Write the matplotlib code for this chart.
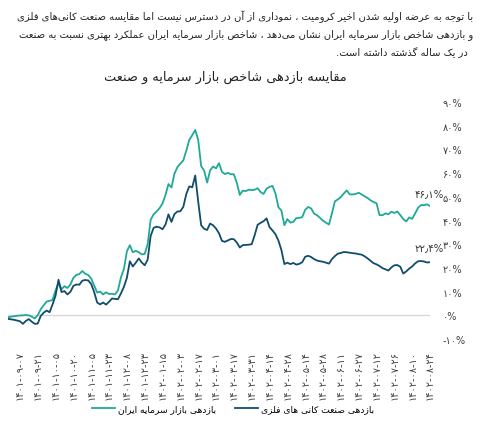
import numpy as np
import matplotlib.pyplot as plt

# متن فارسی - matplotlib اتصال حروف ندارد، پس شکل حروف را دستی می‌سازیم
FORMS = {
    '\u0622': ('\uFE81', '\uFE82'), '\u0627': ('\uFE8D', '\uFE8E'),
    '\u0628': ('\uFE8F', '\uFE90', '\uFE91', '\uFE92'),
    '\u067E': ('\uFB56', '\uFB57', '\uFB58', '\uFB59'),
    '\u062A': ('\uFE95', '\uFE96', '\uFE97', '\uFE98'),
    '\u062B': ('\uFE99', '\uFE9A', '\uFE9B', '\uFE9C'),
    '\u062C': ('\uFE9D', '\uFE9E', '\uFE9F', '\uFEA0'),
    '\u0686': ('\uFB7A', '\uFB7B', '\uFB7C', '\uFB7D'),
    '\u062D': ('\uFEA1', '\uFEA2', '\uFEA3', '\uFEA4'),
    '\u062E': ('\uFEA5', '\uFEA6', '\uFEA7', '\uFEA8'),
    '\u062F': ('\uFEA9', '\uFEAA'), '\u0630': ('\uFEAB', '\uFEAC'),
    '\u0631': ('\uFEAD', '\uFEAE'), '\u0632': ('\uFEAF', '\uFEB0'),
    '\u0698': ('\uFB8A', '\uFB8B'),
    '\u0633': ('\uFEB1', '\uFEB2', '\uFEB3', '\uFEB4'),
    '\u0634': ('\uFEB5', '\uFEB6', '\uFEB7', '\uFEB8'),
    '\u0635': ('\uFEB9', '\uFEBA', '\uFEBB', '\uFEBC'),
    '\u0636': ('\uFEBD', '\uFEBE', '\uFEBF', '\uFEC0'),
    '\u0637': ('\uFEC1', '\uFEC2', '\uFEC3', '\uFEC4'),
    '\u0638': ('\uFEC5', '\uFEC6', '\uFEC7', '\uFEC8'),
    '\u0639': ('\uFEC9', '\uFECA', '\uFECB', '\uFECC'),
    '\u063A': ('\uFECD', '\uFECE', '\uFECF', '\uFED0'),
    '\u0641': ('\uFED1', '\uFED2', '\uFED3', '\uFED4'),
    '\u0642': ('\uFED5', '\uFED6', '\uFED7', '\uFED8'),
    '\u06A9': ('\uFB8E', '\uFB8F', '\uFB90', '\uFB91'),
    '\u06AF': ('\uFB92', '\uFB93', '\uFB94', '\uFB95'),
    '\u0644': ('\uFEDD', '\uFEDE', '\uFEDF', '\uFEE0'),
    '\u0645': ('\uFEE1', '\uFEE2', '\uFEE3', '\uFEE4'),
    '\u0646': ('\uFEE5', '\uFEE6', '\uFEE7', '\uFEE8'),
    '\u0648': ('\uFEED', '\uFEEE'),
    '\u0647': ('\uFEE9', '\uFEEA', '\uFEEB', '\uFEEC'),
    '\u06CC': ('\uFBFC', '\uFBFD', '\uFBFE', '\uFBFF'),
}


def fa(text):
    out = []
    for i, ch in enumerate(text):
        if ch not in FORMS:
            out.append(ch)
            continue
        f = FORMS[ch]
        prev = text[i - 1] if i > 0 else ''
        nxt = text[i + 1] if i < len(text) - 1 else ''
        jp = prev in FORMS and len(FORMS[prev]) == 4
        jn = nxt in FORMS and len(f) == 4
        if jp and jn:
            out.append(f[3])
        elif jp:
            out.append(f[1])
        elif jn:
            out.append(f[2])
        else:
            out.append(f[0])
    return ''.join(out).replace('\u200c', '')[::-1]


def fit_width(fig, t, width_px):
    # shrink a text so it spans about width_px pixels
    w = t.get_window_extent(fig.canvas.get_renderer()).width
    t.set_fontsize(t.get_fontsize() * width_px / w)
    return t.get_fontsize()


intro = [
    "با توجه به عرضه اولیه شدن اخیر کرومیت ، نموداری از آن در دسترس نیست اما مقایسه صنعت کانی\u200cهای فلزی",
    "و بازدهی شاخص بازار سرمایه ایران نشان می\u200cدهد ، شاخص بازار سرمایه ایران عملکرد بهتری نسبت به صنعت",
    "در یک ساله گذشته داشته است.",
]
title = "مقایسه بازدهی شاخص بازار سرمایه و صنعت"
name_market = "بازدهی بازار سرمایه ایران"
name_metal = "بازدهی صنعت کانی های فلزی"

date_labels = [
    "۱۴۰۱-۰۹-۰۷", "۱۴۰۱-۰۹-۲۱", "۱۴۰۱-۱۰-۰۵", "۱۴۰۱-۱۰-۲۰", "۱۴۰۱-۱۱-۰۵",
    "۱۴۰۱-۱۱-۲۳", "۱۴۰۱-۱۲-۰۸", "۱۴۰۱-۱۲-۲۳", "۱۴۰۲-۰۱-۱۵", "۱۴۰۲-۰۲-۰۳",
    "۱۴۰۲-۰۲-۱۷", "۱۴۰۲-۰۳-۰۱", "۱۴۰۲-۰۳-۱۷", "۱۴۰۲-۰۳-۳۱", "۱۴۰۲-۰۴-۱۴",
    "۱۴۰۲-۰۴-۲۸", "۱۴۰۲-۰۵-۱۴", "۱۴۰۲-۰۵-۲۸", "۱۴۰۲-۰۶-۱۱", "۱۴۰۲-۰۶-۲۷",
    "۱۴۰۲-۰۷-۱۲", "۱۴۰۲-۰۷-۲۶", "۱۴۰۲-۰۸-۱۰", "۱۴۰۲-۰۸-۲۴",
]
date_pos = [4 + 6 * k for k in range(len(date_labels))]

market = [
    -0.8, -0.6, -0.4, -0.2, -0.1, 0.0, 0.1, 0.0, -0.6, -1.3,
    0.0, 2.5, 4.2, 5.8, 6.1, 6.5, 10.5, 13.6, 11.0, 12.3,
    11.5, 13.0, 15.8, 17.0, 17.4, 18.7, 17.5, 17.0, 15.5, 12.5,
    9.6, 10.0, 8.8, 9.7, 9.0, 9.1, 8.8, 10.5, 16.0, 19.5,
    27.0, 29.6, 26.6, 27.2, 26.6, 25.7, 25.9, 30.0, 40.3, 42.6,
    43.8, 45.2, 47.2, 50.8, 55.4, 53.9, 59.7, 62.5, 64.0, 65.4,
    69.5, 74.0, 76.0, 78.2, 74.0, 63.0, 61.0, 56.0, 61.1, 62.8,
    62.0, 64.2, 60.5, 59.6, 60.1, 59.5, 59.5, 55.9, 50.8, 52.6,
    52.4, 53.0, 52.8, 53.0, 53.6, 52.0, 51.2, 53.4, 54.2, 54.6,
    51.4, 45.6, 44.2, 38.0, 40.6, 39.1, 39.4, 41.0, 41.1, 41.4,
    44.5, 45.7, 45.1, 42.9, 42.2, 41.1, 39.9, 39.1, 38.3, 43.0,
    48.1, 48.9, 49.9, 51.4, 52.7, 51.0, 51.0, 51.2, 51.7, 51.0,
    50.2, 49.5, 48.5, 47.8, 47.3, 42.3, 42.2, 43.0, 42.6, 43.7,
    43.2, 43.8, 42.3, 40.6, 39.6, 41.3, 40.7, 43.0, 45.4, 46.5,
    46.5, 46.8, 46.1,
]
metal = [
    -1.5, -1.7, -1.9, -2.2, -2.5, -3.6, -2.4, -1.6, -2.7, -3.6,
    -3.5, -0.3, 1.1, 2.0, 1.3, 4.6, 8.3, 15.0, 9.8, 10.2,
    8.8, 9.9, 12.4, 13.0, 12.9, 14.6, 14.9, 14.7, 13.2, 9.8,
    5.4, 4.6, 5.4, 4.5, 5.7, 7.1, 6.9, 6.8, 9.2, 12.0,
    15.8, 22.8, 20.6, 22.2, 24.0, 22.3, 21.1, 23.5, 33.5, 36.9,
    37.4, 37.1, 36.3, 38.3, 42.6, 39.4, 42.7, 43.8, 43.9, 45.8,
    51.2, 54.4, 54.0, 59.0, 48.0, 38.0, 36.5, 36.0, 38.7, 38.0,
    36.6, 34.6, 31.4, 31.0, 31.6, 32.2, 32.1, 30.7, 28.6, 29.6,
    29.7, 29.8, 30.0, 33.8, 38.2, 39.0, 39.7, 40.9, 37.2, 35.8,
    34.2, 31.5, 27.5, 21.6, 22.2, 21.6, 22.1, 21.4, 21.7, 22.4,
    24.7, 25.1, 24.6, 23.7, 23.1, 22.8, 22.6, 22.2, 21.8, 23.7,
    25.0, 26.0, 26.3, 26.7, 26.6, 26.4, 26.2, 26.1, 25.8, 25.6,
    24.9, 24.0, 23.0, 22.0, 21.5, 20.8, 19.9, 19.4, 18.9, 20.2,
    21.1, 21.2, 20.5, 17.6, 18.5, 19.7, 20.6, 21.9, 22.8, 22.9,
    22.7, 22.3, 22.4,
]
end_labels = ["۴۶٫۱%", "۲۲٫۴%"]
y_ticks = list(range(-10, 100, 10))
fa_digits = str.maketrans("0123456789", "۰۱۲۳۴۵۶۷۸۹")

teal = '#1fa996'
navy = '#104c6b'

fig = plt.figure(figsize=(4.8, 4.31), dpi=100)
ax = fig.add_axes([8 / 480, 1 - 340 / 431, 422 / 480, 237 / 431])

x = np.arange(len(market))
ax.axhline(0, color='#d9d9d9', lw=1.0, zorder=1)
l1, = ax.plot(x, market, color=teal, lw=1.3, zorder=3)
l2, = ax.plot(x, metal, color=navy, lw=1.3, zorder=3)

ax.set_xlim(0, len(market) - 1)
ax.set_ylim(-10, 90)
ax.set_yticks(y_ticks)
ax.set_yticklabels([str(v).translate(fa_digits) + '%' if v >= 0
                    else '-' + str(-v).translate(fa_digits) + '%' for v in y_ticks])
ax.yaxis.tick_right()
ax.set_xticks(date_pos)
ax.set_xticklabels(date_labels, rotation=90)
ax.tick_params(axis='x', length=0, pad=8, labelsize=7, colors='#404040')
ax.tick_params(axis='y', length=0, pad=9, labelsize=7, colors='#404040')
for s in ax.spines.values():
    s.set_visible(False)

ax.text(len(market) + 3.5, market[-1] + 5.4, end_labels[0], ha='right', va='center',
        fontsize=7.3, color='#333333')
ax.text(len(metal) + 3.5, metal[-1] + 6.6, end_labels[1], ha='right', va='center',
        fontsize=7.3, color='#333333')

lines = []
for k, line in enumerate(intro):
    lines.append(fig.text(473 / 480, 1 - (17 + 18 * k) / 431, fa(line), ha='right',
                          va='center', fontsize=8.3, color='#222222'))
size = fit_width(fig, lines[0], 458)
for t in lines[1:]:
    t.set_fontsize(size)
lines[2].set_x(468 / 480)

t = fig.text(225 / 480, 1 - 77 / 431, fa(title), ha='center', va='center',
             fontsize=11, color='#222222')
fit_width(fig, t, 243)

fig.legend([l1, l2], [fa(name_market), fa(name_metal)], loc='center',
           bbox_to_anchor=(233 / 480, 1 - 410 / 431), ncol=2, frameon=False,
           fontsize=6.6, handlelength=2.6, columnspacing=2.0, handletextpad=0.3)

fig.savefig('out.png', dpi=100)
